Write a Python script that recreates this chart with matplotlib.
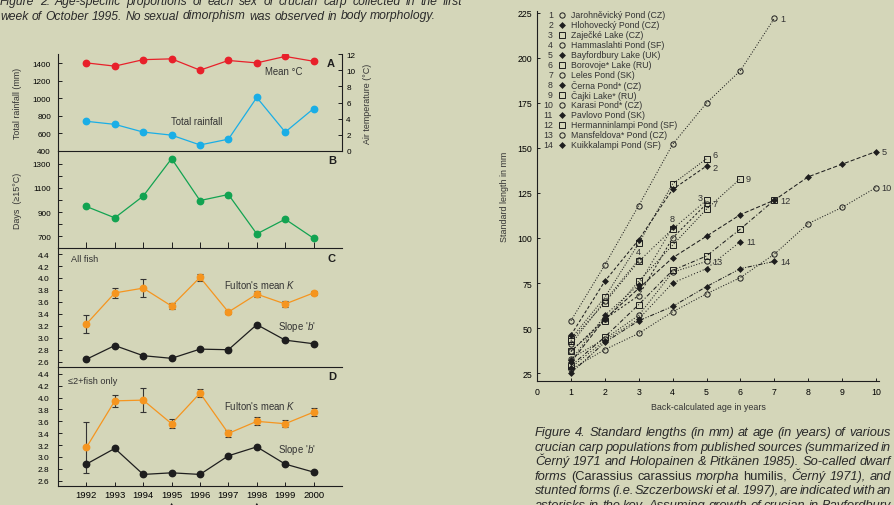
import matplotlib
matplotlib.use('Agg')
import matplotlib.pyplot as plt
from matplotlib.lines import Line2D
from matplotlib.ticker import FixedLocator
import numpy as np

plt.rcParams['font.family'] = ['Liberation Sans', 'DejaVu Sans']
plt.rcParams['mathtext.fontset'] = 'custom'
plt.rcParams['mathtext.it'] = 'Liberation Sans:italic'
plt.rcParams['mathtext.rm'] = 'Liberation Sans'

# ---------------- data: Figure 3 (left) ----------------
years = [1992, 1993, 1994, 1995, 1996, 1997, 1998, 1999, 2000]
mean_temp = [10.9, 10.5, 11.3, 11.4, 10.0, 11.2, 10.9, 11.7, 11.1]
rainfall = [739, 704, 616, 581, 469, 535, 1011, 616, 884]
days_15 = [946, 852, 1032, 1342, 995, 1045, 719, 841, 683]
k_all = [3.23, 3.75, 3.83, 3.53, 4.01, 3.43, 3.73, 3.565, 3.75]
k_all_err = [0.145, 0.09, 0.155, 0.055, 0.055, 0.03, 0.05, 0.045, 0.03]
b_all = [2.64, 2.87, 2.70, 2.656, 2.81, 2.80, 3.22, 2.96, 2.90]
k_young = [3.16, 3.945, 3.957, 3.56, 4.075, 3.397, 3.60, 3.56, 3.755]
k_young_err = [0.43, 0.106, 0.196, 0.073, 0.073, 0.06, 0.067, 0.06, 0.067]
b_young = [2.88, 3.144, 2.706, 2.733, 2.706, 3.02, 3.17, 2.88, 2.745]
arrow_years = [1995, 1998]

# ---------------- data: Figure 4 (right) ----------------
ages = [1, 2, 3, 4, 5, 6, 7, 8, 9, 10]
lake_names = ["Jarohněvický Pond (CZ)", "Hlohovecký Pond (CZ)", "Zaječké Lake (CZ)",
              "Hammaslahti Pond (SF)", "Bayfordbury Lake (UK)", "Borovoje* Lake (RU)",
              "Leles Pond (SK)", "Černa Pond* (CZ)", "Čajki Lake* (RU)",
              "Karasi Pond* (CZ)", "Pavlovo Pond (SK)", "Hermanninlampi Pond (SF)",
              "Mansfeldova* Pond (CZ)", "Kuikkalampi Pond (SF)"]
sl_01 = [54, 85, 118, 152, 175, 193, 222]
sl_02 = [46, 76, 99, 127, 140]
sl_03 = [43, 64, 87, 105, 121]
sl_04 = [41, 65, 88]
sl_05 = [31, 55, 72, 89, 101, 113, 121, 134, 141, 148]
sl_06 = [44, 67, 97, 130, 144]
sl_07 = [37, 55, 68, 100, 119]
sl_08 = [32, 57, 74, 106]
sl_09 = [37, 54, 76, 96, 116, 133]
sl_10 = [27, 38, 47, 59, 69, 78, 91, 108, 117, 128]
sl_11 = [28, 43, 55, 75, 83, 98]
sl_12 = [29, 45, 63, 82, 90, 105, 121]
sl_13 = [33, 44, 57, 81, 87]
sl_14 = [25, 42, 54, 62, 73, 83, 87]
lengths = [sl_01, sl_02, sl_03, sl_04, sl_05, sl_06, sl_07,
           sl_08, sl_09, sl_10, sl_11, sl_12, sl_13, sl_14]

# ---------------- styles ----------------
BG = '#d4d6b9'
INK = '#1e1e1e'
RED = '#e8202a'
BLUE = '#1aaee6'
GREEN = '#12a351'
ORANGE = '#f5951f'
W, H = 894, 506

marker_kind = ['c', 'f', 's', 'c', 'f', 's', 'c', 'f', 's', 'c', 'f', 's', 'c', 'f']
line_styles = [':', (0, (3, 2)), (0, (1, 2)), ':', (0, (4, 2)), (0, (1, 1.5)), (0, (2, 2)),
               (0, (1, 2)), ':', ':', (0, (1, 2)), (0, (4, 2, 1, 2)), ':', (0, (4, 1.5, 1, 1.5, 1, 1.5))]
# label offsets (points) and alignment for series-end numbers
end_offsets = {2: ((4, -1), 'left'), 6: ((4, 3), 'left'), 3: ((-3, 2), 'right'),
               8: ((0, 6), 'center'), 4: ((0, 6), 'center')}

fig = plt.figure(figsize=(W / 100, H / 100), dpi=100, facecolor=BG)


def rect(l, t, r, b):
    return [l / W, 1 - b / H, (r - l) / W, (b - t) / H]


def ftext(x, y, s, **kw):
    return fig.text(x / W, 1 - y / H, s, **kw)


def style_axes(ax, show):
    ax.patch.set_alpha(0)
    for side in ['left', 'right', 'top', 'bottom']:
        ax.spines[side].set_visible(side in show)
        ax.spines[side].set_color(INK)
        ax.spines[side].set_linewidth(0.8)


axA = fig.add_axes(rect(58, 55, 342, 152))
axB = fig.add_axes(rect(58, 152, 342, 249.3))
axC = fig.add_axes(rect(58, 249.3, 342, 368.3))
axD = fig.add_axes(rect(58, 368.3, 342, 487.3))

for ax in (axA, axB, axC, axD):
    ax.set_xlim(1991, 2001)
    ax.tick_params(direction='in', length=3, width=0.7, color=INK, labelsize=5.9, pad=5)

# Panel A
style_axes(axA, ['left', 'bottom'])
axA.plot(years, rainfall, color=BLUE, marker='o', ms=4.6, lw=0.9)
axA.set_ylim(400, 1507)
axA.set_yticks(range(400, 1401, 200))
axA.tick_params(axis='x', bottom=False, labelbottom=False)
axA.set_ylabel('Total rainfall (mm)', fontsize=6.4, color='#333333')
axA.yaxis.set_label_coords(-0.125, 0.5)
axAt = axA.twinx()
style_axes(axAt, ['right'])
axAt.plot(years, mean_temp, color=RED, marker='o', ms=4.6, lw=0.9)
axAt.set_ylim(0, 12)
axAt.set_yticks(range(0, 13, 2))
axAt.tick_params(direction='in', length=3, width=0.7, color=INK, labelsize=5.9, pad=3)
axAt.set_ylabel('Air temperature (°C)', fontsize=6.4, color='#333333')
axAt.yaxis.set_label_coords(1.075, 0.5)

# Panel B
style_axes(axB, ['left', 'bottom'])
axB.plot(years, days_15, color=GREEN, marker='o', ms=4.6, lw=0.9)
axB.set_ylim(600, 1405)
axB.set_yticks(range(700, 1301, 200))
axB.yaxis.set_minor_locator(FixedLocator([800, 1000, 1200]))
axB.tick_params(axis='y', which='minor', direction='in', length=3, width=0.7, color=INK)
axB.set_xticks(years)
axB.tick_params(axis='x', labelbottom=False, length=4)
axB.set_ylabel('Days  (≥15°C)', fontsize=6.4, color='#333333')
axB.yaxis.set_label_coords(-0.125, 0.5)

# Panels C and D
kticks = [2.6, 2.8, 3.0, 3.2, 3.4, 3.6, 3.8, 4.0, 4.2, 4.4]
for ax, k, kerr, b, top in ((axC, k_all, k_all_err, b_all, 4.496),
                            (axD, k_young, k_young_err, b_young, 4.51)):
    style_axes(ax, ['left', 'bottom'])
    ax.errorbar(years, k, yerr=kerr, fmt='-o', color=ORANGE, ms=4.6, lw=0.9,
                ecolor='#333333', elinewidth=0.8, capsize=2.2, capthick=0.8)
    ax.plot(years, b, color=INK, marker='o', ms=4.6, lw=0.9)
    ax.set_ylim(2.506, top)
    ax.set_yticks(kticks)
    ax.set_yticklabels([f'{v:.1f}' for v in kticks])
    ax.tick_params(axis='y', labelsize=6.0, pad=6)

axC.tick_params(axis='x', bottom=False, labelbottom=False)
axD.set_xticks(years)
axD.tick_params(axis='x', labelsize=6.8, pad=2.5, length=3)
for yr in arrow_years:
    axD.annotate('', xy=(yr, -0.115), xycoords=('data', 'axes fraction'),
                 xytext=(yr, -0.2), textcoords=('data', 'axes fraction'),
                 arrowprops=dict(arrowstyle='-|>', color=INK, lw=0.8, mutation_scale=5),
                 annotation_clip=False)

# Panel texts
ftext(331, 64, 'A', fontsize=8, fontweight='bold', ha='center', va='center', color=INK)
ftext(332, 161, 'B', fontsize=8, fontweight='bold', ha='center', va='center', color=INK)
ftext(332, 259, 'C', fontsize=8, fontweight='bold', ha='center', va='center', color=INK)
ftext(332, 377, 'D', fontsize=8, fontweight='bold', ha='center', va='center', color=INK)
ftext(265, 72, 'Mean °C', fontsize=6.9, va='center', color='#333333')
ftext(171, 122, 'Total rainfall', fontsize=6.9, va='center', color='#333333')
ftext(71, 260, 'All fish', fontsize=6.6, va='center', color='#333333')
ftext(224, 285.5, "Fulton's mean $K$", fontsize=6.9, va='center', color='#333333')
ftext(278, 327, "Slope '$b$'", fontsize=6.9, va='center', color='#333333')
ftext(68, 382, '≤2+fish only', fontsize=6.6, va='center', color='#333333')
ftext(224, 405.5, "Fulton's mean $K$", fontsize=6.9, va='center', color='#333333')
ftext(278, 450, "Slope '$b$'", fontsize=6.9, va='center', color='#333333')

# ---------------- right chart ----------------
axR = fig.add_axes(rect(537, 12, 879.4, 382))
style_axes(axR, ['left', 'bottom'])
axR.set_xlim(0, 10.1)
axR.set_ylim(20.56, 226.1)
axR.set_xticks(range(0, 11))
axR.set_yticks(range(25, 226, 25))
axR.tick_params(direction='in', length=2.5, width=0.7, color=INK, labelsize=6.3, pad=3.5)
axR.tick_params(axis='x', pad=4)
axR.set_ylabel('Standard length in mm', fontsize=6.4, color='#333333')
axR.yaxis.set_label_coords(-0.082, 0.5)
axR.set_xlabel('Back-calculated age in years', fontsize=6.4, color='#333333')
axR.xaxis.set_label_coords(0.5, -0.057)


def marker_style(kind):
    if kind == 'c':
        return dict(marker='o', mfc='none', mec=INK, ms=3.8, mew=0.7)
    if kind == 's':
        return dict(marker='s', mfc='none', mec=INK, ms=3.8, mew=0.7)
    return dict(marker='D', mfc=INK, mec=INK, ms=3.0, mew=0.5)


for i, vals in enumerate(lengths):
    xs = ages[:len(vals)]
    axR.plot(xs, vals, color=INK, lw=0.75, ls=line_styles[i], **marker_style(marker_kind[i]))
    n = i + 1
    off, ha = end_offsets.get(n, ((4, 0), 'left'))
    axR.annotate(str(n), xy=(xs[-1], vals[-1]), xytext=off, textcoords='offset points',
                 fontsize=6.6, ha=ha, va='center', color='#333333')

# legend
for i, name in enumerate(lake_names):
    y = 16 + i * 9.97
    ftext(553, y, str(i + 1), fontsize=6.3, ha='right', va='center', color='#333333')
    fig.add_artist(Line2D([561.5 / W], [1 - y / H], transform=fig.transFigure, ls='none',
                          **marker_style(marker_kind[i])))
    ftext(571, y, name, fontsize=6.3, ha='left', va='center', color='#333333')

# ---------------- captions ----------------
renderer = fig.canvas.get_renderer()


def place_words(words, x0, x1, y_base, size, justify=True):
    texts = []
    for w, st in words:
        t = ftext(0, 0, w, fontsize=size, style=st, ha='left', va='baseline', color='#2a2a2a')
        texts.append(t)
    widths = [t.get_window_extent(renderer).width for t in texts]
    if justify and len(texts) > 1:
        gap = (x1 - x0 - sum(widths)) / (len(texts) - 1)
    else:
        gap = 0.278 * size * 100 / 72
    x = x0
    for t, w in zip(texts, widths):
        t.set_position((x / W, 1 - y_base / H))
        x += w + gap


def italic_words(line):
    return [(w, 'italic') for w in line.split()]


cap2 = ["Figure 2. Age-specific proportions of each sex of crucian carp collected in the first",
        "week of October 1995. No sexual dimorphism was observed in body morphology."]
place_words(italic_words(cap2[0]), 0, 462, 5, 8.75, True)
place_words(italic_words(cap2[1]), 0, 462, 19.5, 8.75, False)

cap4 = ["Figure 4. Standard lengths (in mm) at age (in years) of various",
        "crucian carp populations from published sources (summarized in",
        "Černý 1971 and Holopainen & Pitkänen 1985). So-called dwarf",
        None,
        "stunted forms (i.e. Szczerbowski et al. 1997), are indicated with an",
        "asterisks in the key. Assuming growth of crucian in Bayfordbury"]
line4 = [('forms', 'italic'), ('(Carassius', 'normal'), ('carassius', 'normal'),
         ('morpha', 'italic'), ('humilis,', 'normal'), ('Černý', 'italic'),
         ('1971),', 'italic'), ('and', 'italic')]
for j, line in enumerate(cap4):
    words = line4 if line is None else italic_words(line)
    place_words(words, 535, 891, 436 + j * 14.6, 9.3, True)

fig.savefig('out.png', dpi=100, facecolor=BG)
